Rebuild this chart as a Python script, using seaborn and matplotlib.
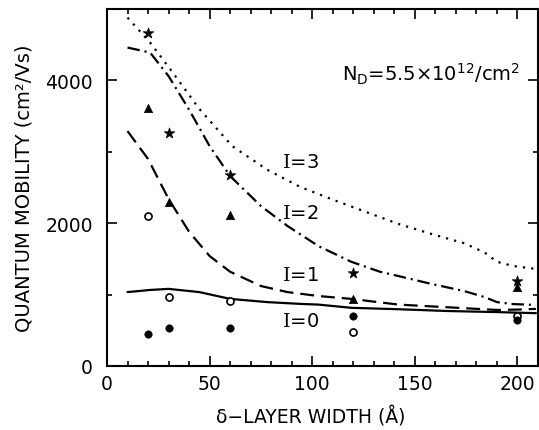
import matplotlib
matplotlib.use("Agg")
import matplotlib.pyplot as plt
from matplotlib.ticker import MultipleLocator
import seaborn as sns

# curves: delta-layer width (A) vs quantum mobility (cm^2/Vs)
x_i0 = [10, 21, 30, 45, 60, 78, 94, 103, 119, 142, 166, 190, 209]
y_i0 = [1035, 1065, 1080, 1035, 940, 895, 870, 860, 815, 795, 770, 755, 740]

x_i1 = [10, 20, 30, 40, 50, 60, 75, 88, 103, 119, 142, 158, 174, 190, 200, 209]
y_i1 = [3290, 2900, 2340, 1880, 1540, 1320, 1120, 1035, 980, 940, 860, 835, 810, 785, 790, 800]

x_i2 = [10, 21, 30, 40, 50, 60, 75, 88, 103, 119, 133, 142, 158, 174, 184, 190, 198, 209]
y_i2 = [4460, 4390, 4060, 3590, 3080, 2660, 2240, 1960, 1680, 1460, 1320, 1260, 1150, 1050, 965, 895, 867, 855]

x_i3 = [10, 21, 31, 45, 61, 78, 94, 110, 142, 158, 174, 184, 190, 198, 209]
y_i3 = [4880, 4530, 4150, 3600, 3080, 2750, 2510, 2330, 1990, 1850, 1720, 1590, 1460, 1400, 1360]

# measured points
x_pts = [20, 30, 60, 120, 200]
y_star = [4670, 3270, 2670, 1300, 1190]
y_tri = [3610, 2300, 2120, 940, 1100]
y_open = [2100, 965, 910, 475, 700]
y_fill = [450, 530, 530, 700, 640]

curve_labels = ["$\\mathrm{I}$=0", "$\\mathrm{I}$=1", "$\\mathrm{I}$=2", "$\\mathrm{I}$=3"]
label_y = [640, 1287, 2150, 2867]

sns.set_style("ticks")
plt.rcParams["font.family"] = ["DejaVu Sans"]
plt.rcParams["mathtext.fontset"] = "custom"
plt.rcParams["mathtext.rm"] = "DejaVu Serif"
plt.rcParams["mathtext.sf"] = "DejaVu Sans"
plt.rcParams["lines.scale_dashes"] = False
plt.rcParams["text.color"] = "black"
plt.rcParams["axes.labelcolor"] = "black"
plt.rcParams["xtick.color"] = "black"
plt.rcParams["ytick.color"] = "black"

fig = plt.figure(figsize=(5.39, 4.31), dpi=100)
ax = fig.add_axes([0.1985, 0.1485, 0.7996, 0.8283])

styles = ["-", (0, (10, 5)), (0, (9, 3.5, 1.5, 3.5)), (0, (1.6, 4.4))]
curves = [(x_i0, y_i0), (x_i1, y_i1), (x_i2, y_i2), (x_i3, y_i3)]
for (xc, yc), ls in zip(curves, styles):
    sns.lineplot(x=xc, y=yc, ax=ax, color="black", linewidth=1.6,
                 linestyle=ls, sort=False, estimator=None)

sns.scatterplot(x=x_pts, y=y_star, ax=ax, marker="*", s=65, color="black",
                edgecolor="black", linewidth=0.5, zorder=3)
sns.scatterplot(x=x_pts, y=y_tri, ax=ax, marker="^", s=36, color="black",
                edgecolor="black", linewidth=0.5, zorder=3)
sns.scatterplot(x=x_pts, y=y_open, ax=ax, marker="o", s=26, facecolor="white",
                edgecolor="black", linewidth=1.2, zorder=3)
sns.scatterplot(x=x_pts, y=y_fill, ax=ax, marker="o", s=28, color="black",
                edgecolor="black", linewidth=0.5, zorder=3)

for lab, ly in zip(curve_labels, label_y):
    ax.text(85.2, ly, lab, fontsize=14, ha="left", va="center")

ax.text(114.4, 4000, "N$_\\mathsf{D}$=5.5\u00d710$^\\mathsf{12}$/cm$^\\mathsf{2}$",
        fontsize=14, ha="left", va="baseline")

ax.set_xlim(0, 210)
ax.set_ylim(0, 5000)
ax.xaxis.set_major_locator(MultipleLocator(50))
ax.xaxis.set_minor_locator(MultipleLocator(10))
ax.yaxis.set_major_locator(MultipleLocator(2000))
ax.yaxis.set_minor_locator(MultipleLocator(1000))

for s in ax.spines.values():
    s.set_visible(True)
    s.set_linewidth(1.5)
    s.set_color("black")
ax.tick_params(which="both", direction="in", top=True, right=True, color="black", width=1.2)
ax.tick_params(which="major", length=7, labelsize=13.5)
ax.tick_params(which="minor", length=3.6)
ax.tick_params(axis="x", which="major", pad=5.5)
ax.tick_params(axis="y", which="major", pad=10)

ax.set_xlabel("\u03b4\u2212LAYER WIDTH (\u00c5)", fontsize=13.5)
ax.set_ylabel("QUANTUM MOBILITY (cm\u00b2/Vs)", fontsize=14)
ax.xaxis.set_label_coords(0.473, -0.112)
ax.yaxis.set_label_coords(-0.17, 0.5)

fig.savefig("out.png", dpi=100)
